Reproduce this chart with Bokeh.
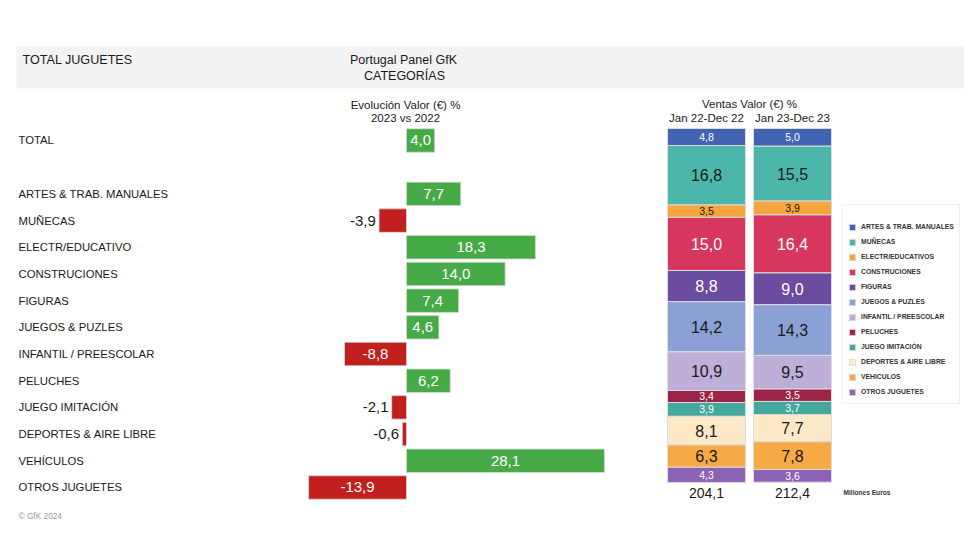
from bokeh.plotting import figure
from bokeh.models import Range1d, BoxAnnotation, ColumnDataSource
from bokeh.embed import file_html
from bokeh.resources import INLINE
from bokeh.core.properties import value, field

# ---------------- data ----------------
categories = ["ARTES & TRAB. MANUALES", "MUÑECAS", "ELECTR/EDUCATIVO", "CONSTRUCIONES",
              "FIGURAS", "JUEGOS & PUZLES", "INFANTIL / PREESCOLAR", "PELUCHES",
              "JUEGO IMITACIÓN", "DEPORTES & AIRE LIBRE", "VEHÍCULOS", "OTROS JUGUETES"]
legend_labels = ["ARTES & TRAB. MANUALES", "MUÑECAS", "ELECTR/EDUCATIVOS", "CONSTRUCIONES",
                 "FIGURAS", "JUEGOS & PUZLES", "INFANTIL / PREESCOLAR", "PELUCHES",
                 "JUEGO IMITACIÓN", "DEPORTES & AIRE LIBRE", "VEHICULOS", "OTROS JUGUETES"]
total_label = "TOTAL"
total_growth = 4.0
growth = [7.7, -3.9, 18.3, 14.0, 7.4, 4.6, -8.8, 6.2, -2.1, -0.6, 28.1, -13.9]
periods = ["Jan 22-Dec 22", "Jan 23-Dec 23"]
share_2022 = [4.8, 16.8, 3.5, 15.0, 8.8, 14.2, 10.9, 3.4, 3.9, 8.1, 6.3, 4.3]
share_2023 = [5.0, 15.5, 3.9, 16.4, 9.0, 14.3, 9.5, 3.5, 3.7, 7.7, 7.8, 3.6]
totals = [204.1, 212.4]

# ---------------- styles ----------------
FONT = value("Liberation Sans")
seg_colors = ["#4263b3", "#4db6aa", "#f5a53c", "#d7375f", "#6b4c9e", "#8ba1d5",
              "#bdafd7", "#9d2449", "#44a89c", "#fde8c8", "#f6a944", "#8c62b4"]
seg_text_colors = ["white", "#1a1a1a", "#1a1a1a", "white", "white", "#1a1a1a",
                   "#1a1a1a", "white", "white", "#1a1a1a", "#1a1a1a", "white"]
POS = "#46ab46"
NEG = "#c1201f"

def fmt(v):
    return f"{v:.1f}".replace(".", ",")

W, H = 964, 544
p = figure(width=W, height=H, output_backend="svg", toolbar_location=None,
           x_axis_location=None, y_axis_location=None, min_border=0,
           x_range=Range1d(-57.62, 79.19), y_range=Range1d(15.137, -5.245))
p.outline_line_color = None
p.xgrid.visible = False
p.ygrid.visible = False
p.extra_x_ranges = {"bars": Range1d(-8.209, 3.0), "px": Range1d(0, W)}
p.extra_y_ranges = {"pct": Range1d(117.51, -36.16), "px": Range1d(H, 0)}

# header band
p.add_layout(BoxAnnotation(left=16, right=964, top=46, bottom=88, x_range_name="px",
                           y_range_name="px", fill_color="#f3f3f3", fill_alpha=1,
                           line_color=None, level="underlay"))

def ptext(x, y, t, size, align="left", color="#1a1a1a", style="normal", baseline="middle"):
    p.text(x=[x], y=[y], text=[t], x_range_name="px", y_range_name="px",
           text_font=FONT, text_font_size=size, text_align=align, text_baseline=baseline,
           text_color=color, text_font_style=style)

ptext(22, 59, "TOTAL JUGUETES", "12.6px")
ptext(403, 59, "Portugal Panel GfK", "12.5px", "center")
ptext(404, 75, "CATEGORÍAS", "12.5px", "center")
ptext(405, 104, "Evolución Valor (€) %", "11.5px", "center")
ptext(405, 117, "2023 vs 2022", "11.5px", "center")
ptext(18, 515, "© GfK 2024", "8.3px", color="#9a9a9a")
ptext(843, 492, "Millones Euros", "6.6px", color="#333333", style="bold")

# ---------------- left diverging bars ----------------
rows = [0] + [i + 2 for i in range(len(categories))]
vals = [total_growth] + growth
names = [total_label] + categories
src_l = ColumnDataSource(dict(y=rows, v=vals, name=names,
                              color=[POS if v >= 0 else NEG for v in vals]))
p.hbar(y="y", left=0, right="v", height=0.88, fill_color="color", line_color="#d8d8d8",
       line_width=0.8, source=src_l)

p.text(x=[18] * len(rows), y=rows, text=names, x_range_name="px", text_font=FONT,
       text_font_size="11.3px", text_baseline="middle", text_color="#1a1a1a")

lx, la, lc = [], [], []
for v in vals:
    if abs(v) < 4:
        lx.append(v - 0.45 if v < 0 else v + 0.45)
        la.append("right" if v < 0 else "left")
        lc.append("#1a1a1a")
    else:
        lx.append(v / 2)
        la.append("center")
        lc.append("white")
src_ll = ColumnDataSource(dict(x=lx, y=rows, t=[fmt(v) for v in vals], a=la, c=lc))
p.text(x="x", y="y", text="t", text_align=field("a"), text_color="c", source=src_ll,
       text_font=FONT, text_font_size="15px", text_baseline="middle")

# ---------------- stacked share bars ----------------
bar_pos = list(range(len(periods)))
keys = [f"c{i}" for i in range(len(categories))]
data = {"x": bar_pos}
for i, k in enumerate(keys):
    data[k] = [share_2022[i], share_2023[i]]
src_s = ColumnDataSource(data)
p.vbar_stack(keys, x="x", width=0.907, fill_color=seg_colors, line_color="#dcdcdc",
             line_width=1, source=src_s, x_range_name="bars", y_range_name="pct",
             legend_label=legend_labels)

sx, sy, st, sc, ss = [], [], [], [], []
for j, shares in enumerate([share_2022, share_2023]):
    cum = 0.0
    for i, v in enumerate(shares):
        sx.append(bar_pos[j])
        sy.append(cum + v / 2)
        cum += v
        st.append(fmt(v))
        sc.append(seg_text_colors[i])
        ss.append("10.5px" if v < 6 else "16px")
src_sl = ColumnDataSource(dict(x=sx, y=sy, t=st, c=sc, s=ss))
p.text(x="x", y="y", text="t", text_color="c", text_font_size=field("s"), source=src_sl,
       x_range_name="bars", y_range_name="pct", text_font=FONT, text_align="center",
       text_baseline="middle")

p.text(x=bar_pos, y=[-3.1] * len(periods), text=periods, x_range_name="bars",
       y_range_name="pct", text_font=FONT, text_font_size="11.5px", text_align="center",
       text_baseline="middle", text_color="#1a1a1a")
p.text(x=[sum(bar_pos) / len(bar_pos)], y=[-7.0], text=["Ventas Valor (€) %"],
       x_range_name="bars", y_range_name="pct", text_font=FONT, text_font_size="11.5px",
       text_align="center", text_baseline="middle", text_color="#1a1a1a")
p.text(x=bar_pos, y=[103.1] * len(totals), text=[fmt(t) for t in totals],
       x_range_name="bars", y_range_name="pct", text_font=FONT, text_font_size="14px",
       text_align="center", text_baseline="middle", text_color="#1a1a1a")

# legend
lg = p.legend[0]
lg.location = (842, 140)
lg.border_line_color = "#e3e3e3"
lg.background_fill_alpha = 1
lg.label_text_font = "Liberation Sans"
lg.label_text_font_size = "6.8px"
lg.label_text_font_style = "bold"
lg.label_text_color = "#333333"
lg.glyph_width = 8
lg.glyph_height = 8
lg.label_standoff = 5
lg.label_height = 13
lg.spacing = 2
lg.padding = 5
lg.margin = 0
lg.title = " "
lg.title_text_font_size = "9px"
lg.title_standoff = 0

open("out.html", "w").write(file_html(p, INLINE))
